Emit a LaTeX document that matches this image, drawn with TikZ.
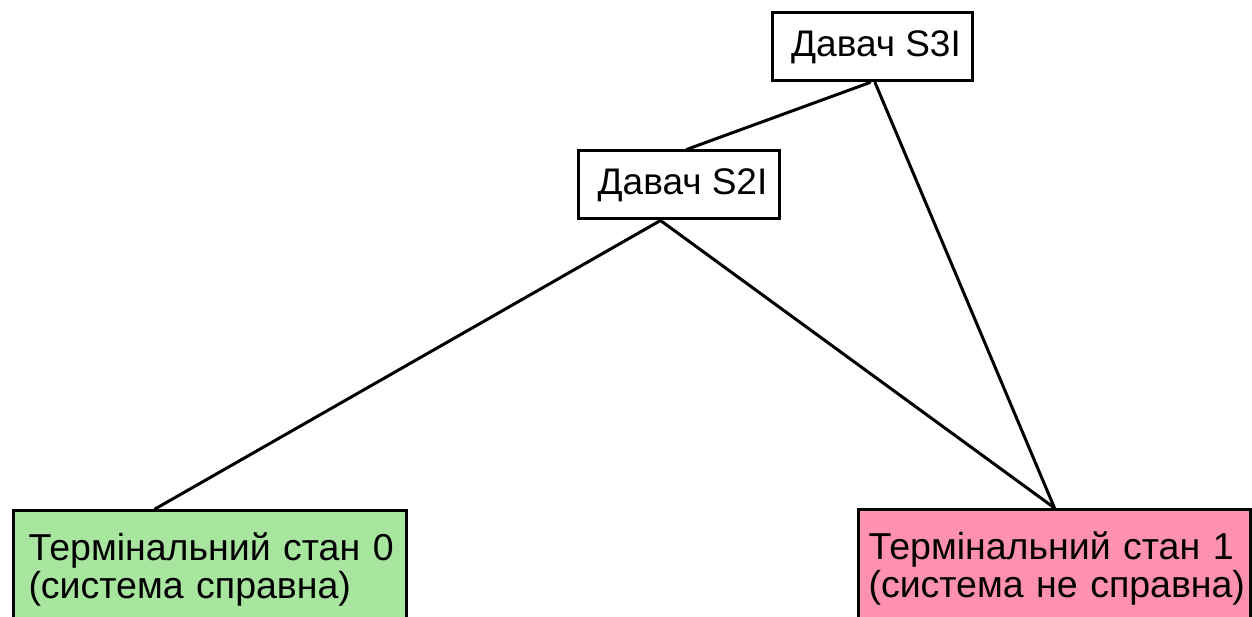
\documentclass[tikz,border=0pt]{standalone}
\usepackage{fontspec}
\setmainfont{Liberation Sans}
\definecolor{okgreen}{RGB}{168,230,160}
\definecolor{badpink}{RGB}{255,145,176}
\hbadness=10000 \hfuzz=20pt
\begin{document}
\begin{tikzpicture}[x=1pt,y=1pt,
  sensor/.style={draw=black,line width=3pt,fill=white,minimum width=200pt,minimum height=68pt,inner sep=0pt,font=\fontsize{37}{42}\selectfont},
  terminal/.style={draw=black,line width=3pt,anchor=north west,minimum height=160pt,align=left,inner ysep=22pt,text depth=115pt,font=\fontsize{37.5}{38}\selectfont},
  link/.style={line width=3pt,line cap=round}]
\useasboundingbox (0,0) rectangle (1252,-617);
\clip (0,0) rectangle (1252,-617);
\fill[white] (0,0) rectangle (1252,-617);
\node[sensor] (s3) at (872,-47) {\hspace*{8pt}Давач S3I};
\node[sensor,minimum width=201pt] (s2) at (678.5,-185) {\hspace*{8pt}Давач S2I};
\node[terminal,fill=okgreen,text width=363pt,inner xsep=15pt] (t0) at (12,-509) {\mbox{Термінальний стан 0}\\\mbox{(система справна)}};
\node[terminal,fill=badpink,text width=372pt,inner xsep=10pt] (t1) at (857,-508) {\mbox{Термінальний стан 1}\\\mbox{(система не справна)}};
\draw[link] ([xshift=-2pt]s3.south) -- ([xshift=8pt]s2.north);
\draw[link] ([xshift=3pt]s3.south) -- (t1.north);
\draw[link] ([xshift=-18pt]s2.south) -- ([xshift=-55pt]t0.north);
\draw[link] ([xshift=-18pt]s2.south) -- (t1.north);
\end{tikzpicture}
\end{document}
